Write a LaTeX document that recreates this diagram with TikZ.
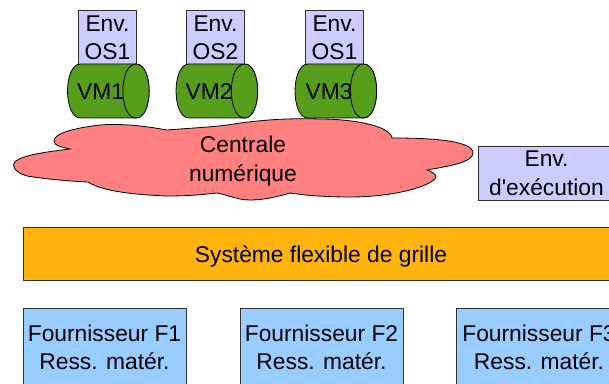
\documentclass[tikz,border=0pt]{standalone}
\usepackage{fontspec}
\setmainfont{Liberation Sans}
\definecolor{envc}{HTML}{CCCCFF}
\definecolor{vmc}{HTML}{579D1C}
\definecolor{cloudc}{HTML}{FF8080}
\definecolor{gridc}{HTML}{FFB30F}
\definecolor{provc}{HTML}{99CCFF}
\definecolor{linec}{HTML}{303030}
\tikzset{
  boxst/.style={draw=linec,line width=0.65pt,inner sep=0pt,outer sep=0pt,anchor=north west,align=center},
  envst/.style={boxst,fill=envc},
  provst/.style={boxst,fill=provc},
  lab/.style={inner sep=0pt,align=center,font=\fontsize{17.1pt}{21.4pt}\selectfont,text=black},
  vmst/.style={draw=black,line width=0.6pt,fill=vmc},
}
\newcommand{\vmcyl}[1]{%
  \draw[vmst,shift={(#1,0)}] (13,64) .. controls (-4.3,64) and (-4.3,118) .. (13,118)
     -- (68.5,118) .. controls (86,118) and (86,64) .. (68.5,64) -- cycle;
  \draw[vmst,shift={(#1,0)}] (68.5,64) .. controls (51,64) and (51,118) .. (68.5,118)
     .. controls (86,118) and (86,64) .. (68.5,64) -- cycle;
}
\begin{document}
\begin{tikzpicture}[x=0.75pt,y=-0.75pt]
\useasboundingbox (0,0) rectangle (609,384);
\clip (0,0) rectangle (609,384);
% Env boxes
\node[envst,minimum width=43.5pt,minimum height=40.5pt] (e1) at (78.5,10) {};
\node[envst,minimum width=43.5pt,minimum height=40.5pt] (e2) at (186.5,10) {};
\node[envst,minimum width=43.5pt,minimum height=40.5pt] (e3) at (305.5,10) {};
\node[lab] (e1t) at (107.5,38) {Env.\\OS1};
\node[lab] (e2t) at (215.5,38) {Env.\\OS2};
\node[lab] (e3t) at (334.5,38) {Env.\\OS1};
% Cylinders
\vmcyl{67.5}
\vmcyl{176}
\vmcyl{295}
\node[lab] (v1) at (100.5,92) {VM1};
\node[lab] (v2) at (209,92) {VM2};
\node[lab] (v3) at (329,92) {VM3};
% Cloud
\draw[draw=black,line width=0.6pt,fill=cloudc]
 (13.5,165) .. controls (14,156) and (45,152) .. (70,149)
 .. controls (62,147) and (54,146) .. (54,141)
 .. controls (54,133) and (75,128) .. (100,125)
 .. controls (125,123) and (150,127) .. (167,130)
 .. controls (190,128) and (220,127) .. (240,123)
 .. controls (265,120) and (285,118) .. (320,119)
 .. controls (350,119) and (390,125) .. (392,138)
 .. controls (420,138) and (473,139) .. (473,153)
 .. controls (473,162) and (450,166) .. (427,170)
 .. controls (432,172) and (436,174) .. (436,177)
 .. controls (432,186) and (395,197) .. (350,197)
 .. controls (330,197) and (310,196) .. (290,193)
 .. controls (280,196) and (265,200) .. (250,200)
 .. controls (238,200) and (228,195) .. (217,193)
 .. controls (200,195) and (185,196) .. (167,196)
 .. controls (145,195) and (105,193) .. (88,182)
 .. controls (65,181) and (38,178) .. (27,176)
 .. controls (20,174) and (13.5,170) .. (13.5,165) -- cycle;
\node[lab] (c) at (243,161) {Centrale\\numérique};
% Env exec
\node[envst,minimum width=120pt,minimum height=40.5pt] (x) at (478.5,146) {};
\node[lab] (xt) at (546.5,173.5) {Env.\\d\textquotesingle exécution};
% Grid
\node[boxst,fill=gridc,minimum width=480pt,minimum height=40pt] (g) at (23.5,227.5) {};
\node[lab] (gt) at (321,256) {Système flexible de grille};
% Providers
\node[provst,minimum width=122.25pt,minimum height=80pt] (f1) at (23.5,308) {};
\node[provst,minimum width=122.25pt,minimum height=80pt] (f2) at (240.5,308) {};
\node[provst,minimum width=122.25pt,minimum height=80pt] (f3) at (456.5,308) {};
\node[lab] (f1t) at (104.5,347.5) {Fournisseur F1\\Ress. matér.};
\node[lab] (f2t) at (321.5,347.5) {Fournisseur F2\\Ress. matér.};
\node[lab] (f3t) at (539,347.5) {Fournisseur F3\\Ress. matér.};
\end{tikzpicture}
\end{document}
